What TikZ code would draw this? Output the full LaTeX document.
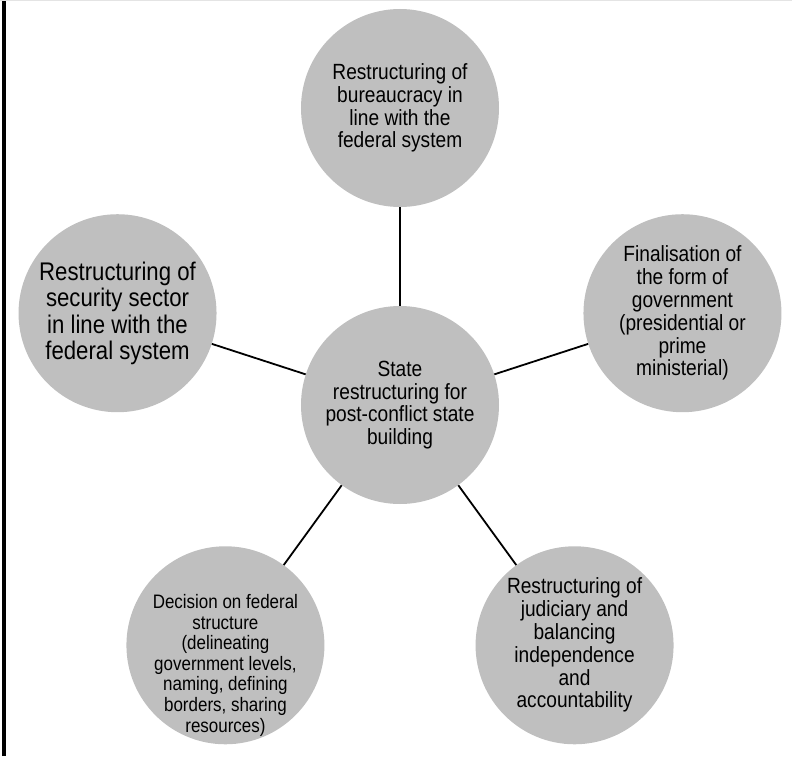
\documentclass[tikz,border=0pt]{standalone}
\usepackage{fontspec}
\setmainfont{Liberation Sans}[FakeStretch=0.87]
\definecolor{bubblegray}{RGB}{191,191,191}
\definecolor{rulegray}{RGB}{228,228,228}
\edef\dist{\fpeval{297}}
\edef\diam{\fpeval{2*99}}

\begin{document}
\begin{tikzpicture}[x=1pt,y=1pt,
  bubble/.style={circle,fill=bubblegray,minimum size=\diam pt,inner sep=0pt,
    align=center,font=\fontsize{22}{22.8}\selectfont},
  link/.style={line width=1.8pt}]
  % fix the frame
  \useasboundingbox (-400,-351) rectangle (392,405);
  \draw[line width=4pt] (-396,-351) -- (-396,405);
  \draw[rulegray,line width=1pt] (-400,404.5) -- (392,404.5);

  % the hub
  \node[bubble] (state) at (0,0) {State\\restructuring for\\post-conflict state\\building};

  % the five bubbles round it
  \node[bubble] (bureau) at (90:\dist pt)
    {Restructuring of\\bureaucracy in\\line with the\\federal system};
  \node[bubble] (government) at (18:\dist pt)
    {Finalisation of\\the form of\\government\\(presidential or\\prime\\ministerial)};
  \node[bubble,font=\fontsize{25.5}{26.5}\selectfont] (security) at (162:\dist pt)
    {Restructuring of\\security sector\\in line with the\\federal system};
  \node[bubble] (judiciary) at (306:\dist pt)
    {Restructuring of\\judiciary and\\balancing\\independence\\and\\accountability};
  \node[bubble] (federal) at (234:\dist pt) {};
  \node[align=center,font=\fontsize{19.5}{20.6}\selectfont] (federaltext)
    at ([yshift=-20pt]federal.center)
    {Decision on federal\\structure\\(delineating\\government levels,\\naming, defining\\borders, sharing\\resources)};

  % join them to the hub
  \foreach \n in {bureau,government,security,judiciary,federal}
    \draw[link] (state) -- (\n);
\end{tikzpicture}
\end{document}
